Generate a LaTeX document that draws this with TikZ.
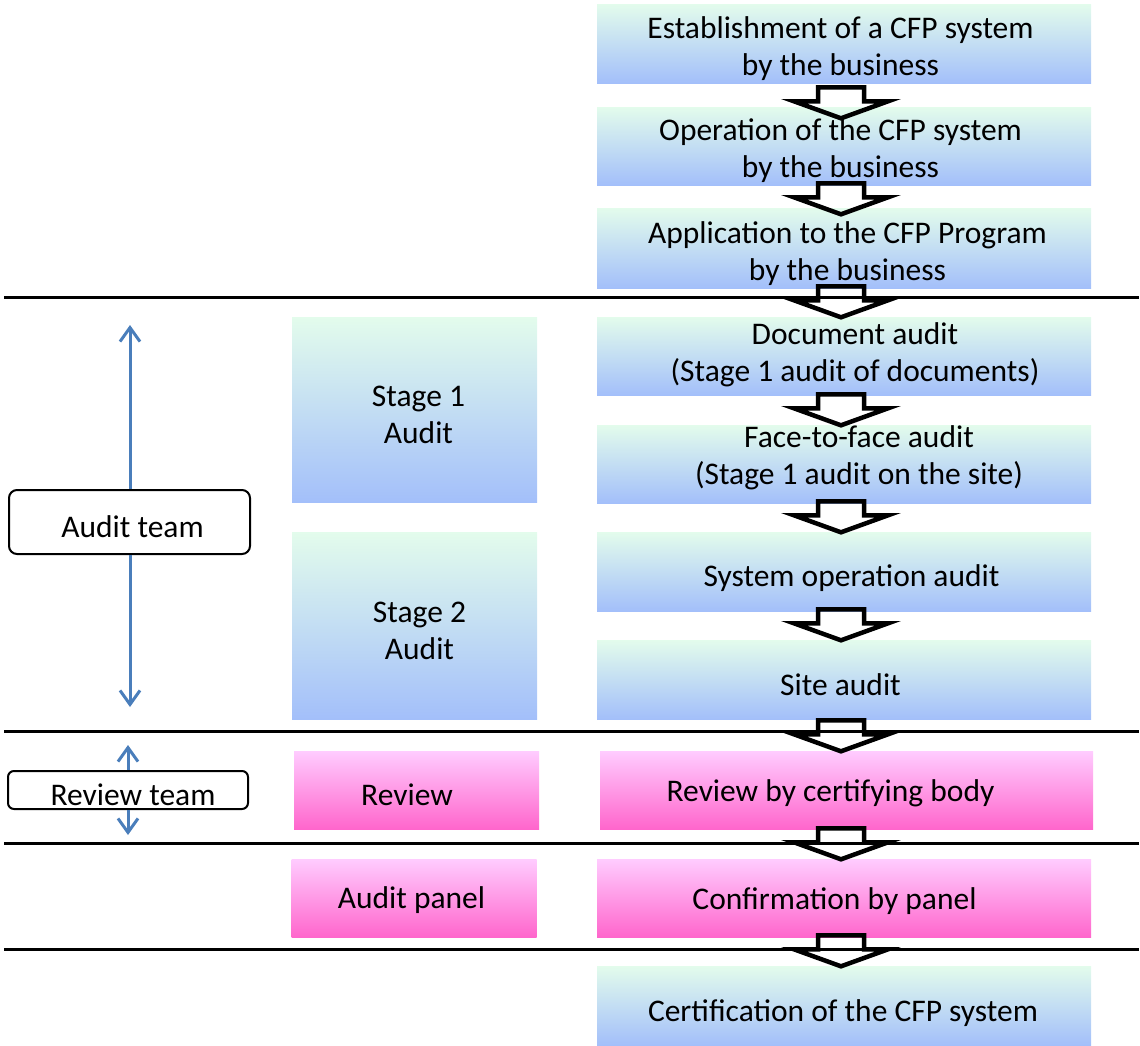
\documentclass[tikz,border=0pt]{standalone}
\usepackage{fontspec}
\setmainfont{Carlito}
\usetikzlibrary{arrows.meta,calc}
\definecolor{btop}{HTML}{E3FCEC}
\definecolor{bbot}{HTML}{A3BFFA}
\definecolor{ptop}{HTML}{FFCCFF}
\definecolor{pbot}{HTML}{FF66CC}
\definecolor{arrblue}{HTML}{4A7EBB}
% one centred line: #1 raise (pt), #2 sideways shift x2 (pt), #3 text
\newcommand\one[3]{\hspace*{#2pt}\raisebox{#1pt}[0pt][0pt]{#3}}
% two centred lines: #1 raise, #2 sideways shift x2, #3 and #4 the lines
\newcommand\two[4]{\hspace*{#2pt}\rule{0pt}{33pt}\raisebox{#1pt}[0pt][0pt]{#3}\\%
  \hspace*{#2pt}\rule[-6pt]{0pt}{6pt}\raisebox{#1pt}[0pt][0pt]{#4}}
% block arrow whose tip enters node #2 by #1 (px)
\newcommand\flow[2][0.5]{%
  \draw[flowarrow] ($(#2.north -| ax)+(0,#1)$) -- ++(47,-17) -- ++(-24,0) -- ++(0,-14)
    -- ++(-46,0) -- ++(0,14) -- ++(-24,0) -- cycle;}
\begin{document}
\begin{tikzpicture}[x=1pt,y=-1pt,
  box/.style={rectangle, inner sep=0pt, align=center, font=\fontsize{31.5}{37}\selectfont, text=black},
  onel/.style={text height=33pt, text depth=6pt},
  bluebox/.style={box, top color=btop, bottom color=bbot},
  pinkbox/.style={box, top color=ptop, bottom color=pbot},
  rcol/.style={minimum width=494pt, minimum height=79pt},
  mcol/.style={minimum width=245pt},
  team/.style={box, onel, draw=black, line width=2pt, rounded corners=8pt, fill=white},
  sepline/.style={line width=3pt, draw=black},
  teamarrow/.style={draw=arrblue, line width=3pt, -{Straight Barb[length=14pt,width=20pt]}},
  flowarrow/.style={draw=black, line width=4.5pt, line join=miter}
]
\useasboundingbox (0,0) rectangle (1140,1045);
\coordinate (ax) at (841,0);

% right column
\node[bluebox, rcol] (b1) at (844,43.5) {\two{0}{-7}{Establishment of a CFP system}{by the business}};
\node[bluebox, rcol, minimum height=78pt] (b2) at (844,146) {\two{1}{-7}{Operation of the CFP system}{by the business}};
\node[bluebox, rcol, minimum height=80pt] (b3) at (844,248) {\two{0}{7}{Application to the CFP Program}{by the business}};
\node[bluebox, rcol, minimum height=78pt] (b4) at (844,356) {\two{7}{22}{Document audit}{(Stage 1 audit of documents)}};
\node[bluebox, rcol, minimum height=78pt] (b5) at (844,464) {\two{12}{30}{Face-to-face audit}{(Stage 1 audit on the site)}};
\node[bluebox, rcol, onel] (b6) at (844,571.5) {\one{-1}{15}{System operation audit}};
\node[bluebox, rcol, onel] (b7) at (844,679.5) {\one{-2}{-7}{Site audit}};
\node[pinkbox, rcol, onel, minimum width=493pt, minimum height=78pt] (b8) at (846.5,790) {\one{2}{-32}{Review by certifying body}};
\node[pinkbox, rcol, onel, minimum height=78pt] (b9) at (844,898) {\one{2}{-19}{Confirmation by panel}};
\node[bluebox, rcol, onel] (b10) at (844,1005.5) {\one{-2}{-2}{Certification of the CFP system}};

% middle column
\node[bluebox, mcol, minimum height=185pt] (s1) at (414.5,409.5) {\two{-2}{8}{Stage 1}{Audit}};
\node[bluebox, mcol, minimum height=187pt] (s2) at (414.5,625.5) {\two{-1.5}{10}{Stage 2}{Audit}};
\node[pinkbox, mcol, onel, minimum height=78pt] (rv) at (416.5,790) {\one{-2}{-19}{Review}};
\node[pinkbox, mcol, onel, minimum height=78pt] (ap) at (414,898) {\one{3}{-5}{Audit panel}};

% separating lines
\coordinate (l1a) at (4,297);  \coordinate (l1b) at (1139,297);
\coordinate (l2a) at (4,731);  \coordinate (l2b) at (1139,731);
\coordinate (l3a) at (4,843);  \coordinate (l3b) at (1139,843);
\coordinate (l4a) at (4,949);  \coordinate (l4b) at (1139,949);
\draw[sepline] (l1a) -- (l1b);
\draw[sepline] (l2a) -- (l2b);
\draw[sepline] (l3a) -- (l3b);
\draw[sepline] (l4a) -- (l4b);

% teams
\node[team, minimum width=241pt, minimum height=64pt] (at) at (129.5,522) {\one{-2}{6}{Audit team}};
\node[team, text height=32pt, text depth=5pt, minimum width=240pt, minimum height=38pt, rounded corners=6pt] (rt) at (128,790) {\one{-2}{10}{Review team}};
\coordinate (atop) at (130,325);
\coordinate (abot) at (130,707);
\coordinate (rtop) at (128,745);
\coordinate (rbot) at (128,835);
\draw[teamarrow] (at.north -| atop) -- (atop);
\draw[teamarrow] (at.south -| abot) -- (abot);
\draw[teamarrow] (rt.north -| rtop) -- (rtop);
\draw[teamarrow] (rt.south -| rbot) -- (rbot);

% block arrows
\flow[11.5]{b2}
\flow[6.5]{b3}
\flow{b4}
\flow{b5}
\flow{b6}
\flow{b7}
\flow{b8}
\flow{b9}
\flow{b10}
\end{tikzpicture}
\end{document}
